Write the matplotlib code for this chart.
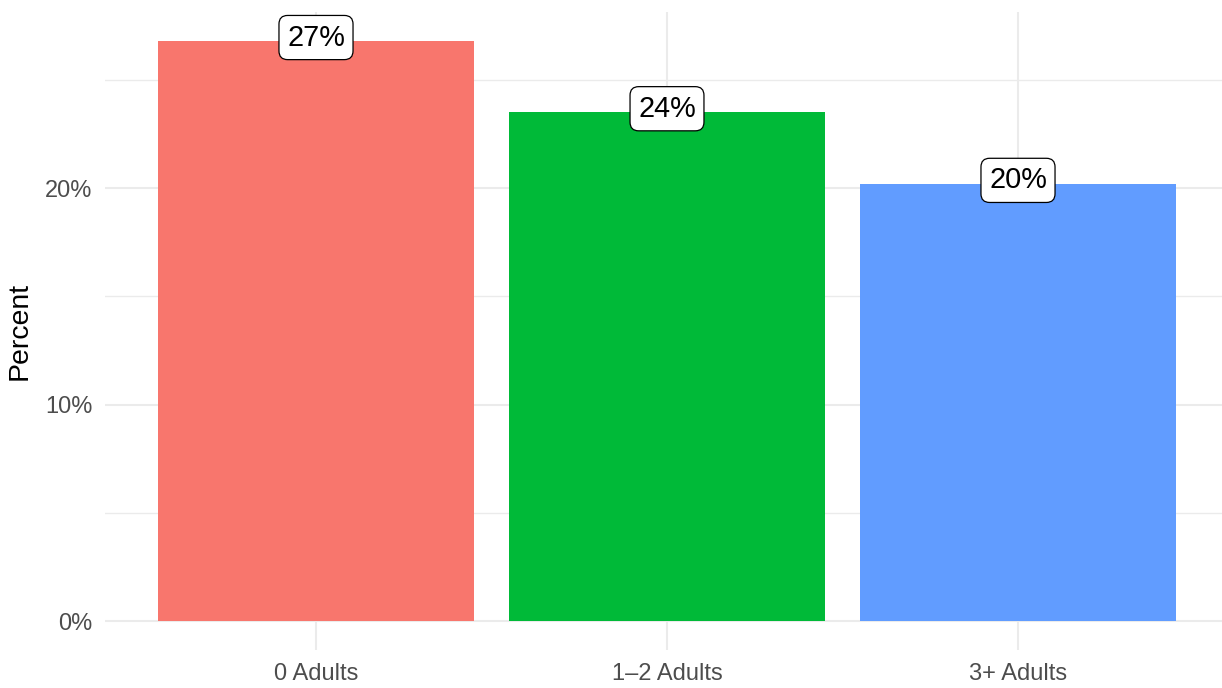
import matplotlib
matplotlib.use("Agg")
import matplotlib.pyplot as plt
from matplotlib.ticker import MultipleLocator, FuncFormatter

# data
categories = ['0 Adults', '1\u20132 Adults', '3+ Adults']
percents = [26.8, 23.51, 20.2]
labels = ['27%', '24%', '20%']
colors = ['#F8766D', '#00BA38', '#619CFF']

plt.rcParams['font.family'] = ['Liberation Sans', 'DejaVu Sans']

W, H = 1222, 688
fig = plt.figure(figsize=(W / 100, H / 100), dpi=100)
# panel in pixel coords: left 105.4, right 1228.6, top 12, bottom 650
ax = fig.add_axes([105.4 / W, (H - 650) / H, (1228.6 - 105.4) / W, (650 - 12) / H])

x = list(range(1, len(categories) + 1))
ax.bar(x, percents, width=0.9, color=colors, zorder=2)

for xi, v, lab in zip(x, percents, labels):
    ax.text(xi, v + 0.16, lab, ha='center', va='center', fontsize=20.8, color='black', zorder=3,
            bbox=dict(boxstyle='round,pad=0.28,rounding_size=0.3', fc='white', ec='black', lw=0.9))

ymax = max(percents)
ax.set_xlim(0.4, 3.6)
ax.set_ylim(-0.05 * ymax, 1.05 * ymax)
ax.set_xticks(x)
ax.set_xticklabels(categories)
ax.yaxis.set_major_locator(MultipleLocator(10))
ax.yaxis.set_minor_locator(MultipleLocator(5))
ax.yaxis.set_major_formatter(FuncFormatter(lambda v, p: '{:.0f}%'.format(v)))

ax.grid(True, which='major', color='#EBEBEB', lw=1.5, zorder=0)
ax.grid(True, which='minor', axis='y', color='#EBEBEB', lw=1.0, zorder=0)
ax.set_axisbelow(True)
for s in ax.spines.values():
    s.set_visible(False)
ax.tick_params(axis='both', which='both', length=0, labelsize=17, labelcolor='#4D4D4D')
ax.tick_params(axis='y', pad=9.5)
ax.tick_params(axis='x', pad=9)

fig.text(20 / W, 1 - 331 / H, 'Percent', rotation=90, ha='center', va='center', fontsize=20.5, color='black')

fig.savefig('out.png', dpi=100)
